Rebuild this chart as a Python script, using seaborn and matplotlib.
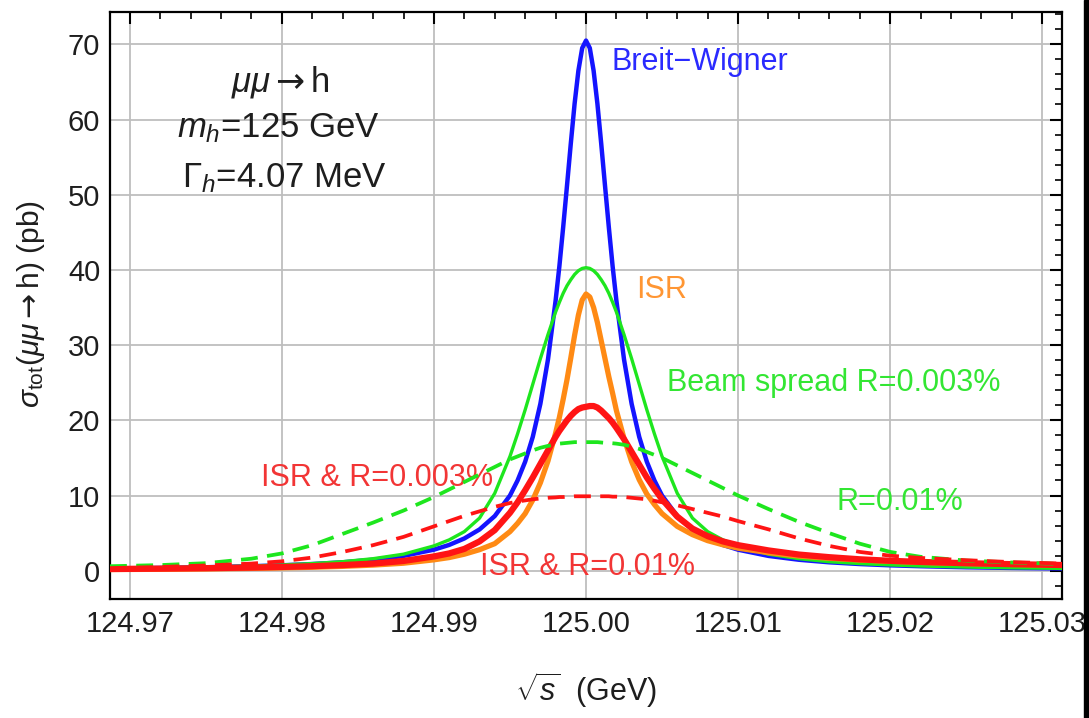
import numpy as np
import pandas as pd
import matplotlib
matplotlib.use("Agg")
import matplotlib.pyplot as plt
import seaborn as sns
from matplotlib.ticker import MultipleLocator, FormatStrFormatter
from matplotlib.patches import Rectangle

# offsets from 125 GeV in MeV
offset_mev = [-31.3, -28, -25, -22, -20, -18, -16, -14, -12, -10, -9, -8, -7, -6, -5, -4.5, -4,
              -3.5, -3, -2.5, -2, -1.75, -1.5, -1.25, -1, -0.75, -0.5, -0.25, 0,
              0.25, 0.5, 0.75, 1, 1.25, 1.5, 1.75, 2, 2.5, 3, 3.5, 4, 4.5, 5, 6, 7, 8, 9, 10,
              12, 14, 16, 18, 20, 22, 25, 28, 31.3]
sqrt_s = [125.0 + d / 1000.0 for d in offset_mev]

breit_wigner = [0.30, 0.37, 0.46, 0.60, 0.72, 0.89, 1.12, 1.46, 1.97, 2.80, 3.43, 4.29, 5.49, 7.27,
                10.0, 12.0, 14.5, 17.8, 22.2, 28.1, 35.9, 40.5, 45.7, 51.2, 56.8, 62.1, 66.5, 69.5, 70.5,
                69.5, 66.5, 62.1, 56.8, 51.2, 45.7, 40.5, 35.9, 28.1, 22.2, 17.8, 14.5, 12.0, 10.0,
                7.27, 5.49, 4.29, 3.43, 2.80, 1.97, 1.46, 1.12, 0.89, 0.72, 0.60, 0.46, 0.37, 0.30]

beam_003 = [0.31, 0.39, 0.49, 0.63, 0.77, 0.95, 1.2, 1.6, 2.2, 3.3, 4.1, 5.2, 7.0, 10.3, 15.2, 18.2,
            21.4, 24.8, 28.2, 31.4, 34.4, 35.7, 36.9, 37.9, 38.7, 39.4, 39.9, 40.2, 40.3,
            40.2, 39.9, 39.4, 38.7, 37.9, 36.9, 35.7, 34.4, 31.4, 28.2, 24.8, 21.4, 18.2, 15.2,
            10.3, 7.0, 5.2, 4.1, 3.3, 2.2, 1.6, 1.2, 0.95, 0.77, 0.63, 0.49, 0.39, 0.31]

isr = [0.16, 0.19, 0.24, 0.31, 0.38, 0.46, 0.58, 0.75, 1.0, 1.45, 1.75, 2.2, 2.8, 3.6, 5.2, 6.3,
       7.6, 9.4, 11.7, 14.6, 18.3, 20.4, 22.8, 25.4, 28.3, 31.3, 34.0, 36.0, 36.8,
       36.4, 35.0, 33.0, 30.6, 28.2, 25.8, 23.6, 21.3, 17.6, 14.5, 12.1, 10.2, 8.8, 7.6,
       5.9, 4.8, 4.0, 3.45, 3.0, 2.4, 1.95, 1.65, 1.42, 1.25, 1.1, 0.95, 0.83, 0.73]

isr_r003 = [0.23, 0.28, 0.34, 0.42, 0.5, 0.6, 0.75, 0.95, 1.3, 1.9, 2.3, 2.9, 3.9, 5.4, 7.7, 9.1,
            10.7, 12.4, 14.2, 16.0, 17.8, 18.6, 19.3, 20.0, 20.6, 21.1, 21.5, 21.7, 21.8,
            21.9, 21.9, 21.7, 21.3, 20.8, 20.3, 19.7, 19.0, 17.5, 15.8, 14.1, 12.4, 10.9, 9.5,
            7.2, 5.6, 4.6, 3.9, 3.4, 2.7, 2.15, 1.8, 1.52, 1.32, 1.17, 1.0, 0.87, 0.76]

beam_01 = [0.6, 0.75, 1.0, 1.6, 2.3, 3.4, 4.9, 6.4, 8.0, 9.8, 10.8, 11.8, 12.8, 13.8, 14.8, 15.2,
           15.6, 16.0, 16.35, 16.6, 16.8, 16.9, 16.95, 17.0, 17.05, 17.1, 17.1, 17.1, 17.1,
           17.1, 17.1, 17.1, 17.05, 17.0, 17.0, 16.95, 16.9, 16.75, 16.5, 16.2, 15.8, 15.4, 15.0,
           14.0, 13.0, 12.0, 11.0, 10.0, 8.2, 6.5, 5.0, 3.6, 2.5, 1.85, 1.35, 1.1, 0.9]

isr_r01 = [0.35, 0.5, 0.7, 0.95, 1.25, 1.75, 2.5, 3.4, 4.5, 5.9, 6.6, 7.3, 7.9, 8.5, 9.0, 9.2,
           9.35, 9.5, 9.6, 9.7, 9.75, 9.8, 9.8, 9.85, 9.85, 9.9, 9.9, 9.9, 9.9,
           9.9, 9.9, 9.9, 9.9, 9.9, 9.9, 9.85, 9.85, 9.8, 9.7, 9.6, 9.5, 9.3, 9.1,
           8.7, 8.2, 7.7, 7.2, 6.6, 5.5, 4.3, 3.3, 2.5, 2.0, 1.7, 1.4, 1.15, 0.95]

BLUE = "#1414ff"
ORANGE = "#ff8a14"
GREEN = "#1ee61e"
RED = "#ff1414"

sns.set_theme(style="white")
plt.rcParams["font.family"] = ["Liberation Sans", "DejaVu Sans"]
plt.rcParams["mathtext.fontset"] = "custom"
plt.rcParams["mathtext.rm"] = "Liberation Sans"
plt.rcParams["mathtext.it"] = "Liberation Sans:italic"
plt.rcParams["mathtext.bf"] = "Liberation Sans:bold"
plt.rcParams["mathtext.sf"] = "DejaVu Sans"

fig = plt.figure(figsize=(10.89, 7.18), dpi=100)
ax = fig.add_axes([110 / 1089, 1 - 599 / 718, (1062 - 110) / 1089, (599 - 12) / 718])

series = [
    (breit_wigner, BLUE, 3.2, "-", 3),
    (beam_003, GREEN, 2.4, "-", 4),
    (isr, ORANGE, 3.8, "-", 5),
    (isr_r003, RED, 4.5, "-", 6),
    (beam_01, GREEN, 2.7, (0, (4.5, 2.5)), 7),
    (isr_r01, RED, 2.7, (0, (4.5, 2.5)), 8),
]
for vals, col, lw, ls, z in series:
    df = pd.DataFrame({"sqrt_s": sqrt_s, "sigma": vals})
    sns.lineplot(data=df, x="sqrt_s", y="sigma", ax=ax, color=col, linewidth=lw,
                 linestyle=ls, zorder=z, sort=False)

ax.set_xlim(124.9687, 125.0313)
ax.set_ylim(-3.76, 74.3)
ax.xaxis.set_major_locator(MultipleLocator(0.01))
ax.xaxis.set_minor_locator(MultipleLocator(0.002))
ax.xaxis.set_major_formatter(FormatStrFormatter("%.2f"))
ax.yaxis.set_major_locator(MultipleLocator(10))
ax.yaxis.set_minor_locator(MultipleLocator(2))
ax.grid(True, which="major", color="#bebebe", linewidth=1.3)
ax.set_axisbelow(True)
ax.tick_params(which="both", direction="in", top=True, right=True, colors="black",
               labelsize=21, labelcolor="#1e1e1e")
ax.tick_params(which="major", length=8.5, width=1.5)
ax.tick_params(which="minor", length=5, width=1.2)
ax.tick_params(axis="x", pad=8)
ax.tick_params(axis="y", pad=7)
for sp in ax.spines.values():
    sp.set_color("black")
    sp.set_linewidth(1.6)
ax.set_xlabel("")
ax.set_ylabel("")

fig.text(586 / 1089, 1 - 690 / 718, r"$\sqrt{s}$  (GeV)", fontsize=22, ha="center", va="center",
         color="#1e1e1e")
fig.text(31 / 1089, 1 - 304 / 718, r"$\sigma_{\rm tot}(\mu\mu\mathsf{\rightarrow}$h) (pb)", fontsize=21.5,
         ha="center", va="center", rotation=90, color="#1e1e1e")

ax.text(124.9799, 65.0, r"$\mu\mu\mathsf{\rightarrow}$h", fontsize=25, ha="center", va="center", color="#1e1e1e")
ax.text(124.9798, 58.9, r"$m_h$=125 GeV", fontsize=25, ha="center", va="center", color="#1e1e1e")
ax.text(124.9802, 52.2, r"$\Gamma_h$=4.07 MeV", fontsize=25, ha="center", va="center", color="#1e1e1e")

ax.text(125.0017, 67.6, "Breit\u2212Wigner", fontsize=22, ha="left", va="center", color="#2a2aff")
ax.text(125.0033, 37.3, "ISR", fontsize=22, ha="left", va="center", color="#ff9633")
ax.text(125.0053, 25.0, "Beam spread R=0.003%", fontsize=22, ha="left", va="center", color="#33e633")
ax.text(124.97865, 12.3, "ISR & R=0.003%", fontsize=22, ha="left", va="center", color="#f23535")
ax.text(125.0165, 9.1, "R=0.01%", fontsize=22, ha="left", va="center", color="#33e633")
ax.text(124.99304, 0.5, "ISR & R=0.01%", fontsize=22, ha="left", va="center", color="#f23535")

fig.add_artist(Rectangle((1084 / 1089, 0), 5 / 1089, 1, transform=fig.transFigure,
                         color="black", zorder=20))

fig.savefig("out.png", dpi=100)
